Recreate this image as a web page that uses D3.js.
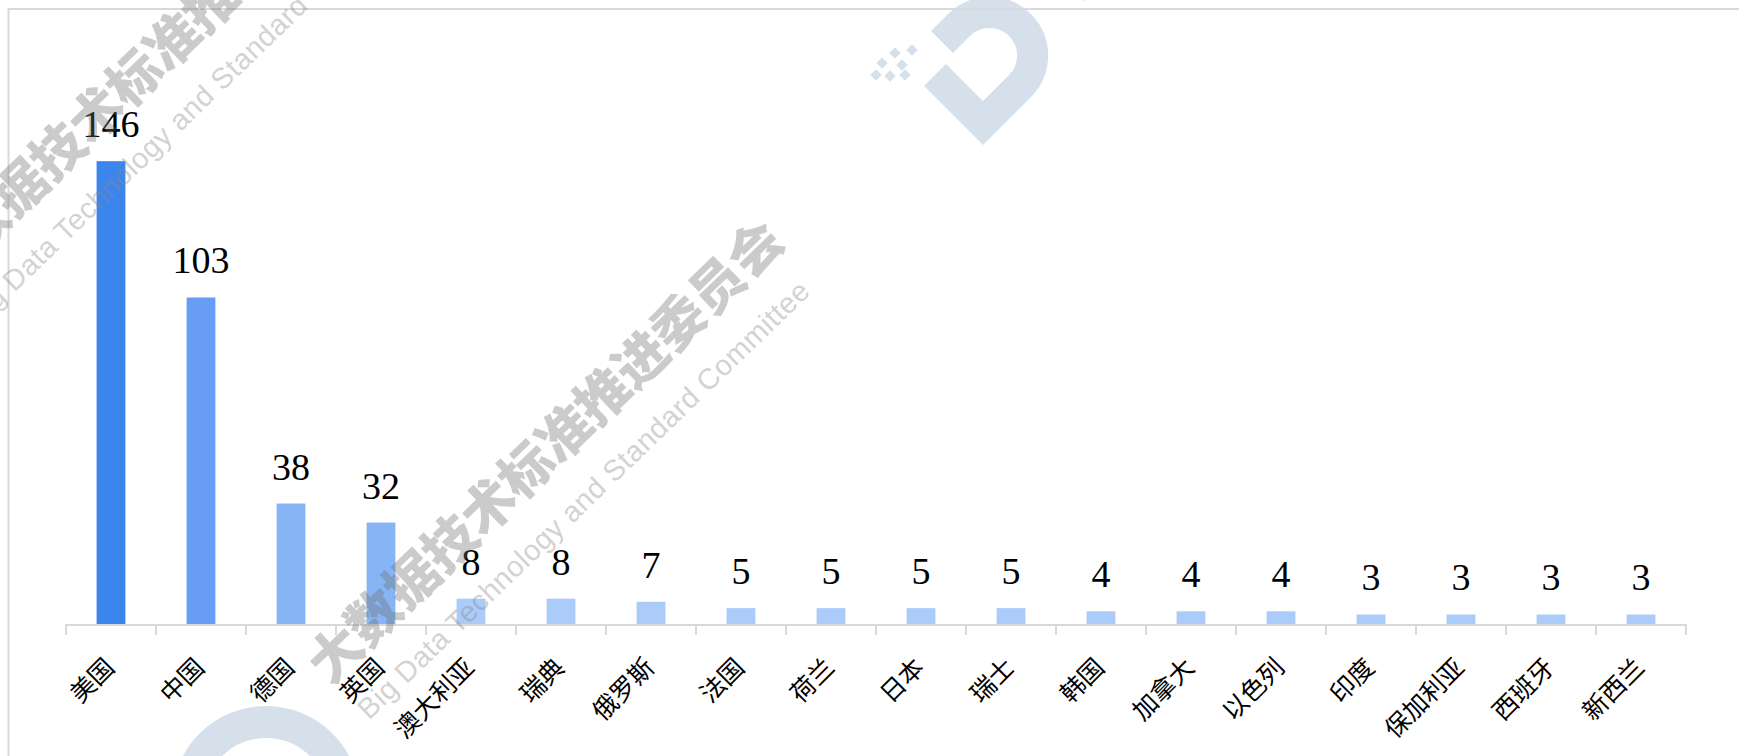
<!DOCTYPE html>
<html>
<head>
<meta charset="utf-8">
<script src="https://cdn.jsdelivr.net/npm/d3@7/dist/d3.min.js"></script>
<style>
body { margin: 0; background: #fff; overflow: hidden; }
</style>
</head>
<body>
<svg id="chart"></svg>
<script>

// data
const countries = ["美国", "中国", "德国", "英国", "澳大利亚", "瑞典", "俄罗斯", "法国", "荷兰",
	"日本", "瑞士", "韩国", "加拿大", "以色列", "印度", "保加利亚", "西班牙", "新西兰"];
const counts = [146, 103, 38, 32, 8, 8, 7, 5, 5, 5, 5, 4, 4, 4, 3, 3, 3, 3];
const yDomain = [0, 160];

// watermark strings
const wmTitle = "大数据技术标准推进委员会";
const wmSub = "Big Data Technology and Standard Committee";

const W = 1739, H = 756;
const axisY = 624;

const svg = d3.select('#chart').attr('width', W).attr('height', H);

const data = countries.map((c, i) => ({ name: c, value: counts[i] }));

const x = d3.scaleBand()
	.domain(countries)
	.range([66, 1686])
	.paddingInner(0.68)
	.paddingOuter(0.34);

const y = d3.scaleLinear().domain(yDomain).range([axisY, axisY - 160 * 3.17]);

//colour tiers like the original (bigger value = deeper blue)
const color = d3.scaleThreshold()
	.domain([9, 50, 120])
	.range(["#abcbf8", "#87b4f4", "#679ef4", "#3b85ec"]);

//background logo shapes (light blue-gray)
const logo = svg.append('g').attr('class', 'logo');
logo.append('path')
	.attr('d', 'M935,75 L983,123 L1020,86 A43,43 0 0 0 959,25 L942,42')
	.attr('fill', 'none')
	.attr('stroke', '#d5e0ea')
	.attr('stroke-width', 31);
[[912, 50], [895, 53], [882, 63], [902, 65], [876, 75], [890, 76], [905, 75]].forEach(p => {
	logo.append('rect')
		.attr('x', p[0] - 4).attr('y', p[1] - 4)
		.attr('width', 8).attr('height', 8)
		.attr('transform', `rotate(45,${p[0]},${p[1]})`)
		.attr('fill', '#d5e0ea');
});
logo.append('circle')
	.attr('cx', 266).attr('cy', 800).attr('r', 78)
	.attr('fill', 'none')
	.attr('stroke', '#d5e0ea')
	.attr('stroke-width', 32);

//frame
svg.append('path')
	.attr('d', `M8.5,${H} L8.5,9 L${W},9`)
	.attr('fill', 'none')
	.attr('stroke', '#d9d9d9')
	.attr('stroke-width', 2);

//bars
svg.append('g').selectAll('rect')
	.data(data)
	.join('rect')
	.attr('x', d => x(d.name))
	.attr('y', d => y(d.value))
	.attr('width', x.bandwidth())
	.attr('height', d => y(0) - y(d.value))
	.attr('fill', d => color(d.value));

//value labels
svg.append('g').selectAll('text')
	.data(data)
	.join('text')
	.attr('x', d => x(d.name) + x.bandwidth() / 2)
	.attr('y', d => y(d.value) - 24)
	.attr('text-anchor', 'middle')
	.style('font-family', '"Liberation Serif", "Times New Roman", serif')
	.style('font-size', '38px')
	.style('fill', '#000')
	.text(d => d.value);

//x axis: labels from d3.axisBottom, ticks at band edges
const xAxis = svg.append('g')
	.attr('transform', `translate(0,${axisY})`)
	.call(d3.axisBottom(x).tickSize(0));
xAxis.select('.domain').remove();
xAxis.selectAll('text')
	.attr('x', 0).attr('y', 0).attr('dy', 0)
	.attr('text-anchor', 'end')
	.attr('transform', 'translate(5,45) rotate(-45)')
	.style('font-family', '"Noto Sans CJK SC", sans-serif')
	.style('font-size', '25px')
	.style('fill', '#000');

const step = x.step();
const edges = countries.map(c => x(c) + x.bandwidth() / 2 - step / 2);
edges.push(x.range()[1]);
xAxis.append('line')
	.attr('x1', x.range()[0]).attr('x2', x.range()[1])
	.attr('y1', 1).attr('y2', 1)
	.attr('stroke', '#d9d9d9').attr('stroke-width', 2);
xAxis.append('g').selectAll('line')
	.data(edges)
	.join('line')
	.attr('x1', d => d).attr('x2', d => d)
	.attr('y1', 0).attr('y2', 11)
	.attr('stroke', '#d9d9d9').attr('stroke-width', 2);

//watermarks on top, semi transparent
function watermark(px, py) {
	const g = svg.append('g')
		.attr('class', 'watermark')
		.attr('transform', `translate(${px},${py}) rotate(-44)`);
	g.append('text')
		.attr('x', 0).attr('y', 0)
		.style('font-family', '"Noto Sans CJK SC", sans-serif')
		.style('font-weight', 900)
		.style('font-size', '53px')
		.style('fill', '#6e6e6e')
		.style('fill-opacity', 0.36)
		.text(wmTitle);
	g.append('text')
		.attr('x', 4).attr('y', 52)
		.attr('textLength', 615)
		.style('font-family', '"Liberation Sans", Arial, sans-serif')
		.style('font-size', '29px')
		.style('fill', '#8a8a8a')
		.style('fill-opacity', 0.4)
		.text(wmSub);
}
watermark(330, 686);
watermark(-62, 294);
watermark(1044, -32);

</script>
</body>
</html>
